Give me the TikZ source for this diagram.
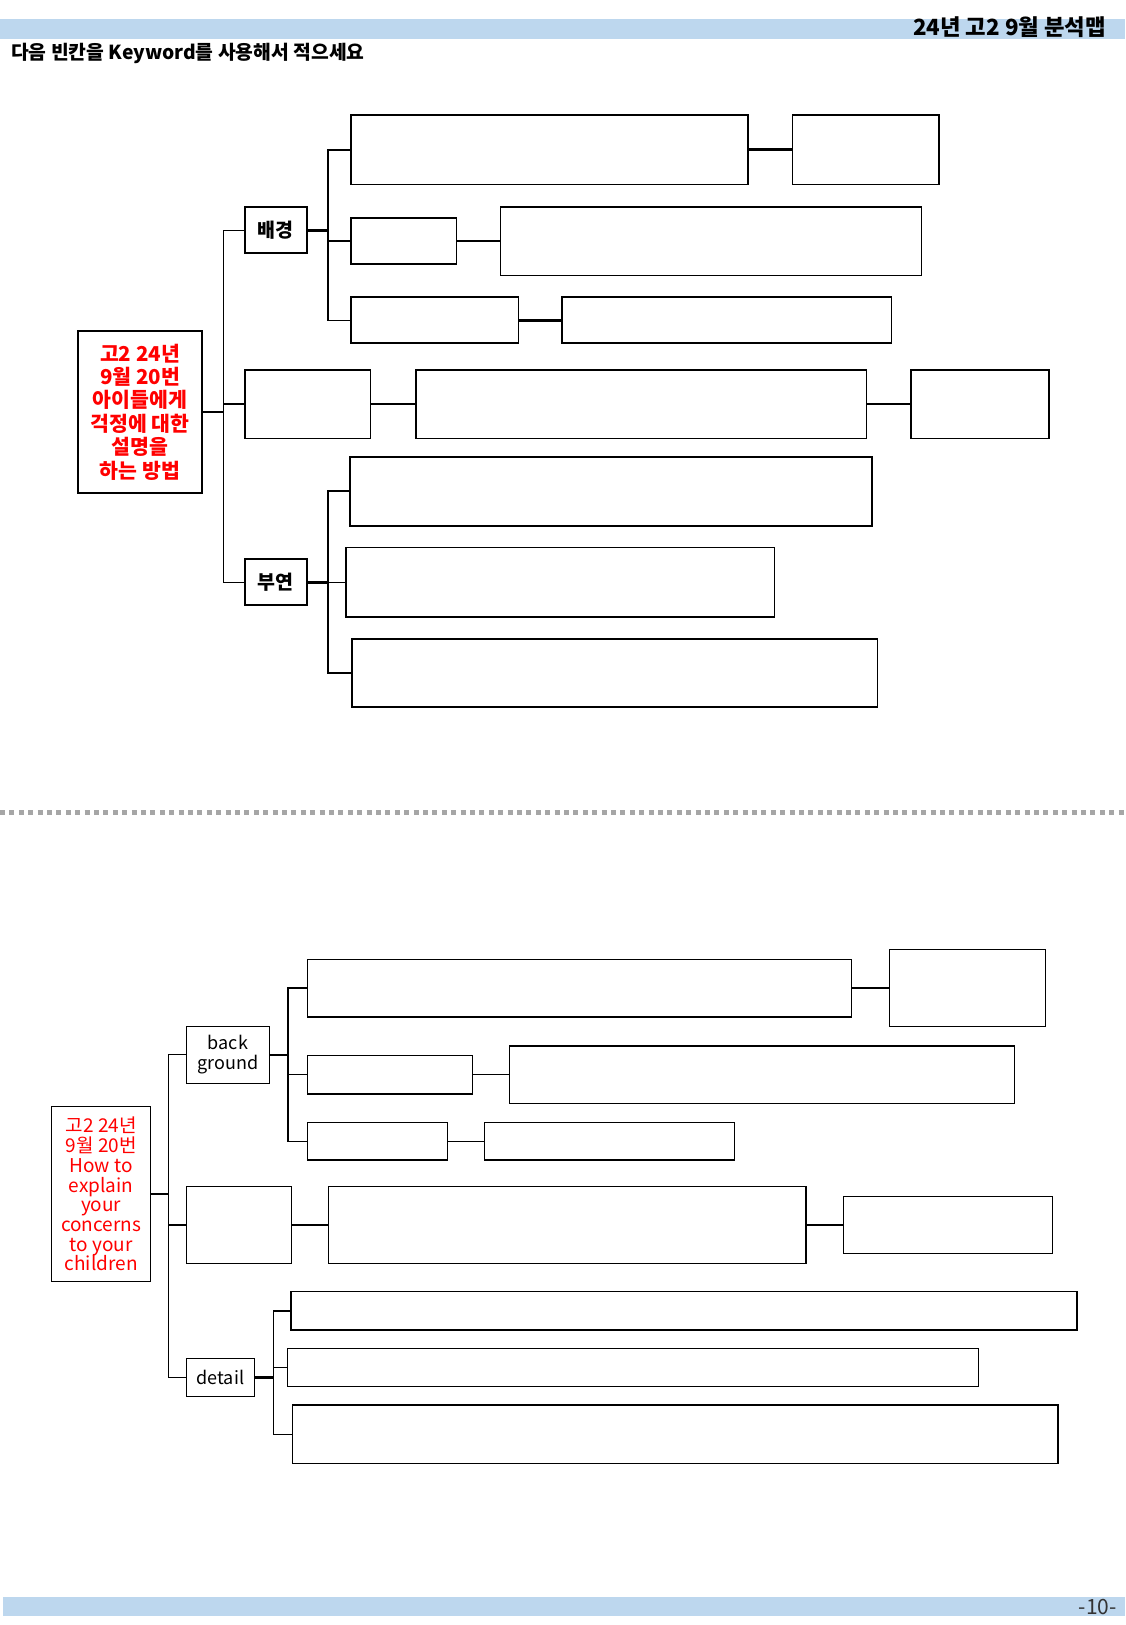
\documentclass[tikz,border=0pt]{standalone}
\usepackage{fontspec}
\setmainfont{Noto Sans CJK KR}
\definecolor{barblue}{HTML}{BDD7EE}
\definecolor{dotgray}{HTML}{A6A6A6}
\definecolor{pagegray}{HTML}{333333}
\tikzset{
  bx/.style 2 args={draw=black, line width=1.7pt, inner sep=0pt, outer sep=0pt, minimum width=#1pt, minimum height=#2pt},
  bxb/.style 2 args={draw=black, line width=1.3pt, inner sep=0pt, outer sep=0pt, minimum width=#1pt, minimum height=#2pt},
  conn/.style={line width=1.6pt, black},
  connthick/.style={line width=2.6pt, black},
  connb/.style={line width=1.3pt, black},
  connbthick/.style={line width=2.4pt, black},
  redtxt/.style={text=red, align=center, font=\bfseries\fontsize{20.5}{23.4}\selectfont},
  redtxtb/.style={text=red, align=center, font=\fontsize{19}{19.7}\selectfont},
  lbl/.style={align=center, font=\bfseries\fontsize{19.5}{21}\selectfont},
  lblb/.style={align=center, font=\fontsize{18}{19.7}\selectfont},
}
\begin{document}
\begin{tikzpicture}[x=1pt, y=-1pt]
\useasboundingbox (0,0) rectangle (1125,1625);
% header
\fill[barblue] (0,19.3) rectangle (1125,39.3);
\node[anchor=east, inner sep=0pt, font=\bfseries\fontsize{22.3}{25}\selectfont] (title) at (1106,27.5) {24년 고2 9월 분석맵};
\node[anchor=west, inner sep=0pt, font=\bfseries\fontsize{19.3}{21}\selectfont] (subtitle) at (11,53.5) {다음 빈칸을 Keyword를 사용해서 적으세요};
% footer
\fill[barblue] (2.7,1596.7) rectangle (1125,1615.7);
\node[anchor=east, inner sep=0pt, text=pagegray, font=\fontsize{21}{23}\selectfont] (pagenum) at (1117,1607) {-10-};
% separator
\draw[dotgray, line width=5pt, dash pattern=on 5pt off 4.4pt] (0,812.5) -- (1125,812.5);

% ===== top diagram =====
\node[bx={123.4}{162}] (rootA) at (140,412) {};
\node[redtxt] (rootAtxt) at (140,412) {고2 24년\\9월 20번\\아이들에게\\걱정에 대한\\설명을\\하는 방법};
\node[bx={61.7}{46}, lbl] (bgA) at (275.9,230.3) {배경};
\node[bx={61.7}{46}, lbl] (byA) at (275.9,582.3) {부연};
\node[bx={125.6}{68.4}] (mA1) at (307.8,404.2) {};
\node[bx={450.7}{68.4}] (mA2) at (641.2,404.2) {};
\node[bx={138.2}{68.4}] (mA3) at (980,404.2) {};

\node[bx={396.6}{69.3}] (a1) at (549.5,149.7) {};
\node[bx={146.3}{69.3}] (a2) at (865.7,149.7) {};
\node[bx={105.2}{46}] (b1) at (403.8,241.2) {};
\node[bx={421.1}{68.6}] (b2) at (710.9,241.2) {};
\node[bx={167.3}{46}] (c1) at (434.9,320.3) {};
\node[bx={329.4}{46}] (c2) at (726.7,320.3) {};

\node[bx={521.5}{69}] (d1) at (611,491.2) {};
\node[bx={428.5}{69.4}] (d2) at (560.3,582.3) {};
\node[bx={525.7}{68.6}] (d3) at (614.5,673) {};

\coordinate (t1) at (223.3,412);
\coordinate (s1) at (328,230.3);
\coordinate (s2) at (328,582.3);

\draw[connthick] (rootA.east) -- (t1);
\draw[conn] (bgA.west) -| (t1) |- (byA.west);
\draw[conn] (t1) |- (mA1.west);
\draw[conn] (mA1.east) -- (mA2.west);
\draw[conn] (mA2.east) -- (mA3.west);
\draw[connthick] (bgA.east) -- (s1);
\draw[conn] (a1.west) -| (s1) |- (c1.west);
\draw[conn] (s1) |- (b1.west);
\draw[connthick] (a1.east) -- (a2.west);
\draw[conn] (b1.east) -- (b2.west);
\draw[connthick] (c1.east) -- (c2.west);
\draw[connthick] (byA.east) -- (s2);
\draw[conn] (d1.west) -| (s2) |- (d3.west);
\draw[conn] (s2) -- (d2.west);

% ===== bottom diagram =====
\node[bxb={99}{175}] (rootB) at (101.2,1194.2) {};
\node[redtxtb] (rootBtxt) at (101.2,1194.2) {고2 24년\\9월 20번\\How to\\explain\\your\\concerns\\to your\\children};
\node[bxb={83.1}{57}, lblb] (bgB) at (228,1054.8) {back\\ground};
\node[bxb={68.4}{38.4}, lblb] (dtB) at (220.4,1377.5) {detail};
\node[bxb={104.9}{76.6}] (mB1) at (238.8,1225) {};
\node[bxb={477.6}{76.6}] (mB2) at (567.2,1225) {};
\node[bxb={208.9}{57.6}] (mB3) at (947.9,1225) {};

\node[bxb={544.2}{57.7}] (e1) at (579.3,988) {};
\node[bxb={156.1}{77.4}] (e2) at (967.4,988) {};
\node[bxb={165.3}{38.3}] (f1) at (389.9,1074.7) {};
\node[bxb={505.1}{57.6}] (f2) at (761.9,1074.7) {};
\node[bxb={140.1}{37.7}] (g1) at (377.3,1141.2) {};
\node[bxb={249.7}{37.7}] (g2) at (609.5,1141.2) {};

\node[bxb={785.9}{38.3}] (h1) at (684,1310.9) {};
\node[bxb={691}{38.4}] (h2) at (632.9,1367.5) {};
\node[bxb={765.7}{58.3}] (h3) at (675.1,1434.2) {};

\coordinate (t2) at (168.3,1194.2);
\coordinate (s3) at (288,1054.8);
\coordinate (s4) at (273.2,1377.5);

\draw[connbthick] (rootB.east) -- (t2);
\draw[connb] (bgB.west) -| (t2) |- (dtB.west);
\draw[connb] (t2) |- (mB1.west);
\draw[connb] (mB1.east) -- (mB2.west);
\draw[connb] (mB2.east) -- (mB3.west);
\draw[connbthick] (bgB.east) -- (s3);
\draw[connb] (e1.west) -| (s3) |- (g1.west);
\draw[connb] (s3) |- (f1.west);
\draw[connb] (e1.east) -- (e2.west);
\draw[connb] (f1.east) -- (f2.west);
\draw[connb] (g1.east) -- (g2.west);
\draw[connbthick] (dtB.east) -- (s4);
\draw[connb] (h1.west) -| (s4) |- (h3.west);
\draw[connb] (s4) |- (h2.west);
\end{tikzpicture}
\end{document}
